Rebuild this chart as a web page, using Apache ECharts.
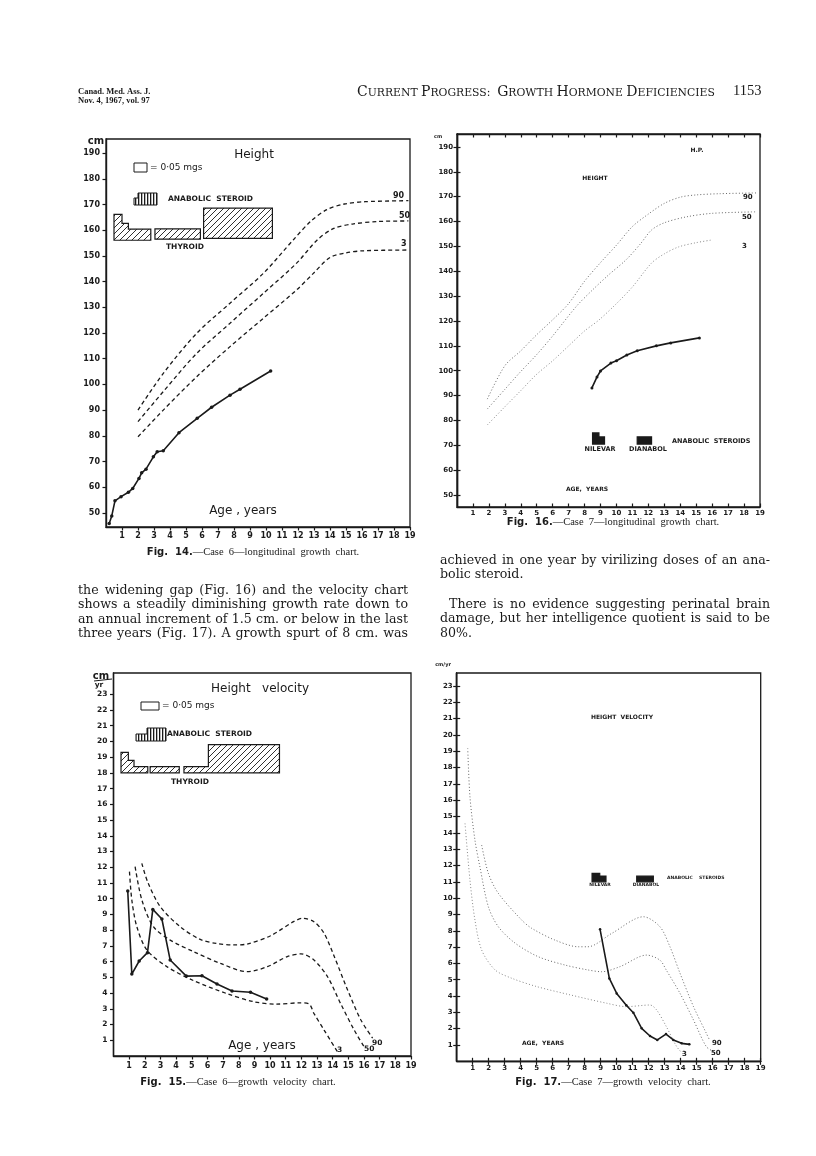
<!DOCTYPE html>
<html><head><meta charset="utf-8">
<script src="https://cdn.jsdelivr.net/npm/echarts@6/dist/echarts.min.js"></script>
<style>html,body{margin:0;padding:0;background:#fff}#c{width:816px;height:1156px}</style>
</head><body><div id="c"></div>
<script>
// ---------------- DATA ----------------
const ageTicks = [1,2,3,4,5,6,7,8,9,10,11,12,13,14,15,16,17,18,19];
const heightTicks = [50,60,70,80,90,100,110,120,130,140,150,160,170,180,190];
const velocityTicks = [1,2,3,4,5,6,7,8,9,10,11,12,13,14,15,16,17,18,19,20,21,22,23];

// Fig. 14 - Case 6 height
const f14p90 = [[2,90],[3.58,104.3],[5.67,119.9],[7.75,131.6],[9.83,143.2],[11.7,156.2],[12.8,163.5],[13.8,168],[14.9,170.2],[16.2,171.1],[18.9,171.5]];
const f14p50 = [[2,85.5],[3.58,97.2],[5.67,112.1],[7.75,123.8],[9.83,135.4],[11.9,147.1],[13.2,156.2],[14.2,160.6],[15.4,162.4],[17,163.4],[18.9,163.6]];
const f14p3  = [[2,79.6],[3.58,90],[5.67,103],[7.75,114.7],[9.83,125.7],[11.9,136.7],[12.96,143.2],[14,149.4],[15,151.2],[16.1,152],[18.9,152.3]];
const f14patient = [[0.2,45.9],[0.36,48.8],[0.56,54.7],[0.94,56.3],[1.4,58],[1.67,59.5],[2.06,63.4],[2.23,65.6],[2.5,67],[2.96,71.8],[3.2,73.8],[3.58,74.2],[4.56,81.2],[5.7,86.8],[6.6,91.1],[7.75,95.8],[8.375,98.1],[10.29,105.2]];
const f14thyroid = [
  {steps:[[0.5,1.0,166.2],[1.0,1.4,162.7],[1.4,2.8,160.4]], base:156.1},
  {steps:[[3.06,5.9,160.5]], base:156.5},
  {steps:[[6.1,10.4,168.6]], base:156.8}
];

// Fig. 16 - Case 7 height
const f16p90 = [[1.9,88.6],[3.0,102],[4,108],[5,114.5],[6,120.5],[7,127],[8,136],[9,143.5],[10,150.5],[11,158],[12,163],[13,167.3],[14,169.8],[15,170.7],[16.5,171.2],[18.8,171.5]];
const f16p50 = [[1.9,84.6],[3,92.5],[3.9,99],[5,106.5],[6,114],[7.5,126],[8.5,132.5],[9.5,138.5],[10.6,144.6],[11.5,151],[12.2,156.6],[13,159.5],[14.4,161.9],[16,163.3],[18.8,163.9]];
const f16p3  = [[1.9,78.2],[3,85.5],[4,92],[4.95,98.3],[6,104],[7,110],[8,116],[8.9,120.4],[10,127],[11,133.7],[12.2,143.3],[13,147],[13.9,149.8],[15,151.5],[16,152.6]];
const f16patient = [[8.46,93.1],[8.78,97.5],[9.0,99.9],[9.65,103.1],[10.0,104],[10.65,106.3],[11.3,108],[12.5,110],[13.4,111.2],[15.2,113.2]];
const f16steroid = [
  {steps:[[8.5,8.9,75],[8.9,9.25,73.4]], base:70.5},
  {steps:[[11.3,12.2,73.4]], base:70.5}
];

// Fig. 15 - Case 6 velocity
const f15p90 = [[1.81,12.25],[2.17,11.1],[2.98,9.5],[4.26,8.22],[5.54,7.41],[6.6,7.15],[7.67,7.06],[8.54,7.12],[10.0,7.63],[11.5,8.54],[12.06,8.75],[12.8,8.54],[13.45,7.8],[14.1,6.32],[14.95,4.2],[15.8,2.29],[16.55,1.13]];
const f15p50 = [[1.38,12.04],[1.81,9.92],[2.55,8.22],[3.62,7.37],[5.12,6.63],[6.83,5.89],[8.54,5.36],[9.83,5.68],[11.1,6.32],[11.97,6.49],[12.8,6.1],[13.67,5.04],[14.5,3.34],[15.37,1.65],[16.0,0.59]];
const f15p3  = [[1.02,11.72],[1.17,9.92],[1.49,8.22],[2.13,6.74],[3.41,5.68],[5.12,4.79],[7.2,3.98],[8.96,3.45],[10.4,3.3],[11.9,3.38],[12.5,3.3],[12.8,2.71],[13.45,1.65],[14.3,0.27]];
const f15patient = [[0.91,10.49],[1.17,5.21],[1.64,6.04],[2.17,6.57],[2.51,9.32],[3.09,8.71],[3.62,6.1],[4.65,5.08],[5.65,5.1],[6.61,4.58],[7.57,4.13],[8.75,4.05],[9.78,3.62]];
const f15thyroid = [
  {steps:[[0.48,0.95,19.3],[0.95,1.31,18.8],[1.31,2.19,18.4]], base:18.0},
  {steps:[[2.34,4.2,18.4]], base:18.0},
  {steps:[[4.5,6.06,18.4],[6.06,10.6,19.8]], base:18.0}
];

// Fig. 17 - Case 7 velocity
const f17p90 = [[1.56,13.25],[1.98,11.52],[2.6,10.3],[4.06,8.66],[4.69,8.15],[6.14,7.43],[7.6,7.02],[8.2,7.02],[9.69,7.84],[11.67,8.86],[12.7,8.25],[13.33,7.02],[13.96,5.39],[14.8,3.35],[15.6,1.72],[15.8,1.31]];
const f17p50 = [[0.69,19.18],[0.83,16.2],[1.14,13.56],[1.45,11.92],[1.98,9.47],[2.6,8.25],[3.64,7.25],[5.1,6.41],[6.77,5.9],[8.2,5.6],[9.06,5.49],[10.2,5.8],[11.87,6.51],[12.7,6.2],[13.1,5.59],[13.96,4.16],[14.8,2.53],[15.6,0.9],[16.05,0.6]];
const f17p3  = [[0.52,14.58],[0.83,11.1],[1.14,8.66],[1.56,6.82],[2.4,5.6],[3.44,5.09],[5.0,4.58],[7.1,4.07],[9.37,3.56],[10.6,3.35],[12.08,3.45],[12.5,3.14],[13.1,2.13],[13.75,0.9],[14.2,0.39]];
const f17patient = [[8.96,8.09],[9.54,5.08],[10.0,4.16],[10.6,3.44],[11.04,2.98],[11.56,2.02],[12.08,1.55],[12.54,1.31],[13.08,1.67],[13.54,1.31],[14.06,1.1],[14.54,1.04]];
const f17steroid = [
  {steps:[[8.46,8.94,11.52],[8.94,9.33,11.35]], base:11.0},
  {steps:[[11.25,12.29,11.35]], base:11.0}
];

// ---------------- RENDER ----------------
const INK = '#1a1a1a';
function hatchCanvas(){
  const c=document.createElement('canvas'); c.width=6; c.height=6;
  const g=c.getContext('2d'); g.strokeStyle=INK; g.lineWidth=0.9;
  g.beginPath(); g.moveTo(0,6); g.lineTo(6,0); g.moveTo(-1,1); g.lineTo(1,-1); g.moveTo(5,7); g.lineTo(7,5); g.stroke();
  return c;
}
function stripeCanvas(){
  const c=document.createElement('canvas'); c.width=3; c.height=3;
  const g=c.getContext('2d'); g.fillStyle='#fff'; g.fillRect(0,0,3,3); g.fillStyle=INK; g.fillRect(0,0,1.3,3);
  return c;
}
const hatchFill = {image: hatchCanvas(), repeat:'repeat'};
const stripeFill = {image: stripeCanvas(), repeat:'repeat'};

const AXFONT = 'DejaVu Sans';
function xAxis(gi, pos, showLabel, tickInside, labelSize, margin){
  return {type:'value', gridIndex:gi, position:pos, min:0, max:19,
    axisLine:{show:true, lineStyle:{color:INK, width:1.4}},
    axisTick:{show:true, inside:tickInside, length:3.5, customValues:ageTicks, lineStyle:{color:INK, width:1.2}},
    axisLabel:{show:showLabel, customValues:ageTicks, fontFamily:AXFONT, fontWeight:'bold', fontSize:labelSize, color:INK, margin:margin},
    splitLine:{show:false}};
}
function yAxis(gi, pos, min, max, ticks, showLabel, tickInside, labelSize, margin){
  return {type:'value', gridIndex:gi, position:pos, min:min, max:max,
    axisLine:{show:true, lineStyle:{color:INK, width:1.4}},
    axisTick:{show:true, inside:tickInside, length:3.5, customValues:ticks, lineStyle:{color:INK, width:1.2}},
    axisLabel:{show:showLabel, customValues:ticks, fontFamily:AXFONT, fontWeight:'bold', fontSize:labelSize, color:INK, margin:margin},
    splitLine:{show:false}};
}
function pct(data, xi, dash, color, width){
  return {type:'line', xAxisIndex:xi, yAxisIndex:xi, data:data, smooth:0.3,
    symbol:'none', silent:true, lineStyle:{color:color, width:width, type:dash}, z:3};
}
function patient(data, xi, size){
  return {type:'line', xAxisIndex:xi, yAxisIndex:xi, data:data, symbol:'circle', symbolSize:size,
    itemStyle:{color:INK}, lineStyle:{color:INK, width:1.6}, silent:true, z:4};
}
function blocks(list, xi, fill){
  return {type:'custom', xAxisIndex:xi, yAxisIndex:xi, silent:true, clip:false, z:2,
    data:list.map((b,i)=>[b.steps[0][0], b.base, i]),
    renderItem:function(params, api){
      const b = list[api.value(2)];
      const pts=[api.coord([b.steps[0][0], b.base])];
      b.steps.forEach(s=>{pts.push(api.coord([s[0],s[2]])); pts.push(api.coord([s[1],s[2]]));});
      pts.push(api.coord([b.steps[b.steps.length-1][1], b.base]));
      return {type:'polygon', shape:{points:pts}, style:{fill:fill, stroke:INK, lineWidth:1.2}};
    }};
}

// text helpers
function T(x,y,text,font,align,valign,fill){
  return {type:'text', x:x, y:y, silent:true, z:10, style:{text:text, font:font, fill:fill||INK,
    textAlign:align||'left', textVerticalAlign:valign||'middle', align:align||'left', verticalAlign:valign||'middle'}};
}
const mctx = document.createElement('canvas').getContext('2d');
function justify(text, x0, x1, y, font, just){
  mctx.font = font;
  const words = text.split(' ');
  const w = words.map(s=>mctx.measureText(s).width);
  const total = w.reduce((a,b)=>a+b,0);
  let gap = mctx.measureText(' ').width;
  if (just && words.length>1) gap = Math.max(2, (x1-x0-total)/(words.length-1));
  let x = x0; const out=[];
  words.forEach((s,i)=>{ out.push(T(x,y,s,font)); x += w[i]+gap; });
  return out;
}
const BODY = '12.6px "DejaVu Serif"';
const SANS = '"DejaVu Sans"';
const els = [];
// header
els.push(T(78,92,'Canad. Med. Ass. J.','bold 8.5px "Liberation Serif"'));
els.push(T(78,101,'Nov. 4, 1967, vol. 97','bold 8.5px "Liberation Serif"'));
function sc(word){ return '{A|'+word[0]+'}{B|'+word.slice(1)+'}'; }
els.push({type:'text', x:357, y:92, silent:true, style:{
  text: sc('CURRENT')+'{B| }'+sc('PROGRESS')+'{B|:  }'+sc('GROWTH')+'{B| }'+sc('HORMONE')+'{B| }'+sc('DEFICIENCIES'),
  textVerticalAlign:'middle', verticalAlign:'middle',
  rich:{A:{font:'14px "DejaVu Serif"', fill:INK, verticalAlign:'bottom'}, B:{font:'10.8px "DejaVu Serif"', fill:INK, verticalAlign:'bottom'}}}});
els.push(T(733,91,'1153','14.5px "Liberation Serif"'));

// Fig 14 texts
els.push(T(96,141,'cm','bold 10px '+SANS,'center'));
els.push(T(254,155,'Height','12px '+SANS,'center'));
els.push({type:'rect', silent:true, shape:{x:134,y:163,width:13,height:9}, style:{fill:'#fff', stroke:INK, lineWidth:1}});
els.push(T(150,168,'= 0·05 mgs','9px '+SANS));
els.push({type:'polygon', silent:true, shape:{points:[[134,205],[134,198],[138,198],[138,193],[157,193],[157,205]]}, style:{fill:stripeFill, stroke:INK, lineWidth:1}});
els.push(T(168,199,'ANABOLIC  STEROID','bold 7.5px '+SANS));
els.push(T(185,247,'THYROID','bold 7.5px '+SANS,'center'));
els.push(T(393,196,'90','bold 8px '+SANS));
els.push(T(399,216,'50','bold 8px '+SANS));
els.push(T(401,244,'3','bold 8px '+SANS));
els.push(T(243,511,'Age , years','12px '+SANS,'center'));
els.push({type:'text', x:253, y:552, silent:true, style:{text:'{F|Fig.  14.}{R|—Case  6—longitudinal  growth  chart.}', textAlign:'center', align:'center', textVerticalAlign:'middle', verticalAlign:'middle',
  rich:{F:{font:'bold 10px '+SANS, fill:INK}, R:{font:'10.5px "Liberation Serif"', fill:INK}}}});

// Fig 16 texts
els.push(T(438,137,'cm','bold 5px '+SANS,'center'));
els.push(T(697,150,'H.P.','bold 6px '+SANS,'center'));
els.push(T(595,178,'HEIGHT','bold 6px '+SANS,'center'));
els.push(T(743,197,'90','bold 7px '+SANS));
els.push(T(742,217,'50','bold 7px '+SANS));
els.push(T(742,246,'3','bold 7px '+SANS));
els.push(T(600,449,'NILEVAR','bold 6.5px '+SANS,'center'));
els.push(T(648,449,'DIANABOL','bold 6.5px '+SANS,'center'));
els.push(T(672,441,'ANABOLIC  STEROIDS','bold 6.5px '+SANS));
els.push(T(587,489,'AGE,  YEARS','bold 6px '+SANS,'center'));
els.push({type:'text', x:613, y:522, silent:true, style:{text:'{F|Fig.  16.}{R|—Case  7—longitudinal  growth  chart.}', textAlign:'center', align:'center', textVerticalAlign:'middle', verticalAlign:'middle',
  rich:{F:{font:'bold 10px '+SANS, fill:INK}, R:{font:'10.5px "Liberation Serif"', fill:INK}}}});

// Fig 15 texts
els.push(T(101,676,'cm','bold 10px '+SANS,'center'));
els.push({type:'line', silent:true, shape:{x1:94,y1:681,x2:112,y2:679}, style:{stroke:INK, lineWidth:1}});
els.push(T(99,685,'yr','bold 7.5px '+SANS,'center'));
els.push(T(260,689,'Height   velocity','12px '+SANS,'center'));
els.push({type:'rect', silent:true, shape:{x:141,y:702,width:18,height:8}, style:{fill:'#fff', stroke:INK, lineWidth:1}});
els.push(T(162,706,'= 0·05 mgs','9px '+SANS));
els.push({type:'polygon', silent:true, shape:{points:[[136,741],[136,734],[147,734],[147,728],[166,728],[166,741]]}, style:{fill:stripeFill, stroke:INK, lineWidth:1}});
els.push(T(167,734,'ANABOLIC  STEROID','bold 7.5px '+SANS));
els.push(T(190,782,'THYROID','bold 7.5px '+SANS,'center'));
els.push(T(372,1043,'90','bold 7.5px '+SANS));
els.push(T(364,1049,'50','bold 7.5px '+SANS));
els.push(T(337,1050,'3','bold 7.5px '+SANS));
els.push(T(262,1046,'Age , years','12px '+SANS,'center'));
els.push({type:'text', x:238, y:1082, silent:true, style:{text:'{F|Fig.  15.}{R|—Case  6—growth  velocity  chart.}', textAlign:'center', align:'center', textVerticalAlign:'middle', verticalAlign:'middle',
  rich:{F:{font:'bold 10px '+SANS, fill:INK}, R:{font:'10.5px "Liberation Serif"', fill:INK}}}});

// Fig 17 texts
els.push(T(443,665,'cm/yr','bold 5px '+SANS,'center'));
els.push(T(622,717,'HEIGHT  VELOCITY','bold 6px '+SANS,'center'));
els.push(T(600,885,'NILEVAR','bold 4.5px '+SANS,'center'));
els.push(T(646,885,'DIANABOL','bold 4.5px '+SANS,'center'));
els.push(T(667,878,'ANABOLIC    STEROIDS','bold 4.5px '+SANS));
els.push(T(712,1043,'90','bold 7px '+SANS));
els.push(T(711,1053,'50','bold 7px '+SANS));
els.push(T(682,1054,'3','bold 7px '+SANS));
els.push(T(543,1043,'AGE,  YEARS','bold 6px '+SANS,'center'));
els.push({type:'text', x:613, y:1082, silent:true, style:{text:'{F|Fig.  17.}{R|—Case  7—growth  velocity  chart.}', textAlign:'center', align:'center', textVerticalAlign:'middle', verticalAlign:'middle',
  rich:{F:{font:'bold 10px '+SANS, fill:INK}, R:{font:'10.5px "Liberation Serif"', fill:INK}}}});

// body paragraphs
[['the widening gap (Fig. 16) and the velocity chart',591,true],
 ['shows a steadily diminishing growth rate down to',605,true],
 ['an annual increment of 1.5 cm. or below in the last',620,true],
 ['three years (Fig. 17). A growth spurt of 8 cm. was',634,true]].forEach(l=>els.push(...justify(l[0],78,408,l[1],BODY,l[2])));
[['achieved in one year by virilizing doses of an ana-',440,561,true],
 ['bolic steroid.',440,575,false],
 ['There is no evidence suggesting perinatal brain',449,605,true],
 ['damage, but her intelligence quotient is said to be',440,619,true],
 ['80%.',440,634,false]].forEach(l=>els.push(...justify(l[0],l[1],770,l[2],BODY,l[3])));

const chart = echarts.init(document.getElementById('c'), null, {renderer:'canvas'});
const DOT = [1,2.2];
const gridStyle = {show:true, borderColor:INK, borderWidth:1.3, backgroundColor:'transparent', containLabel:false, outerBoundsMode:'none'};
chart.setOption({
  animation:false, backgroundColor:'#fff',
  grid:[
    Object.assign({left:106, top:139, width:304, height:388}, gridStyle),
    Object.assign({left:457, top:134, width:303, height:373}, gridStyle),
    Object.assign({left:113.5, top:673, width:297.5, height:383}, gridStyle),
    Object.assign({left:456.7, top:673, width:304, height:388.3}, gridStyle)
  ],
  xAxis:[
    xAxis(0,'bottom',true,false,8,5),
    xAxis(1,'bottom',true,true,7,3),
    xAxis(2,'bottom',true,false,8,6),
    xAxis(3,'bottom',true,true,7,3),
    xAxis(1,'top',false,true,7,3),
    xAxis(3,'top',false,true,7,3)
  ],
  yAxis:[
    yAxis(0,'left',44.5,195.5,heightTicks,true,false,8,6),
    yAxis(1,'left',45.2,195.2,heightTicks,true,true,7,4),
    yAxis(2,'left',0,24.35,velocityTicks,true,false,7.5,6),
    yAxis(3,'left',0,23.8,velocityTicks,true,true,7,4),
    yAxis(1,'right',45.2,195.2,heightTicks,false,true,7,3),
    yAxis(3,'right',0,23.8,velocityTicks,false,true,7,3)
  ],
  series:[
    pct(f14p90,0,[4,3],INK,1.3), pct(f14p50,0,[4,3],INK,1.3), pct(f14p3,0,[4,3],INK,1.3),
    patient(f14patient,0,3.5), blocks(f14thyroid,0,hatchFill),
    pct(f16p90,1,DOT,'#666',1), pct(f16p50,1,DOT,'#666',1), pct(f16p3,1,DOT,'#888',1),
    patient(f16patient,1,3), blocks(f16steroid,1,INK),
    pct(f15p90,2,[4,3],INK,1.3), pct(f15p50,2,[4,3],INK,1.3), pct(f15p3,2,[4,3],INK,1.3),
    patient(f15patient,2,3.5), blocks(f15thyroid,2,hatchFill),
    pct(f17p90,3,DOT,'#666',1), pct(f17p50,3,DOT,'#666',1), pct(f17p3,3,DOT,'#888',1),
    patient(f17patient,3,2.5), blocks(f17steroid,3,INK)
  ],
  graphic:{elements:els}
});
</script></body></html>
